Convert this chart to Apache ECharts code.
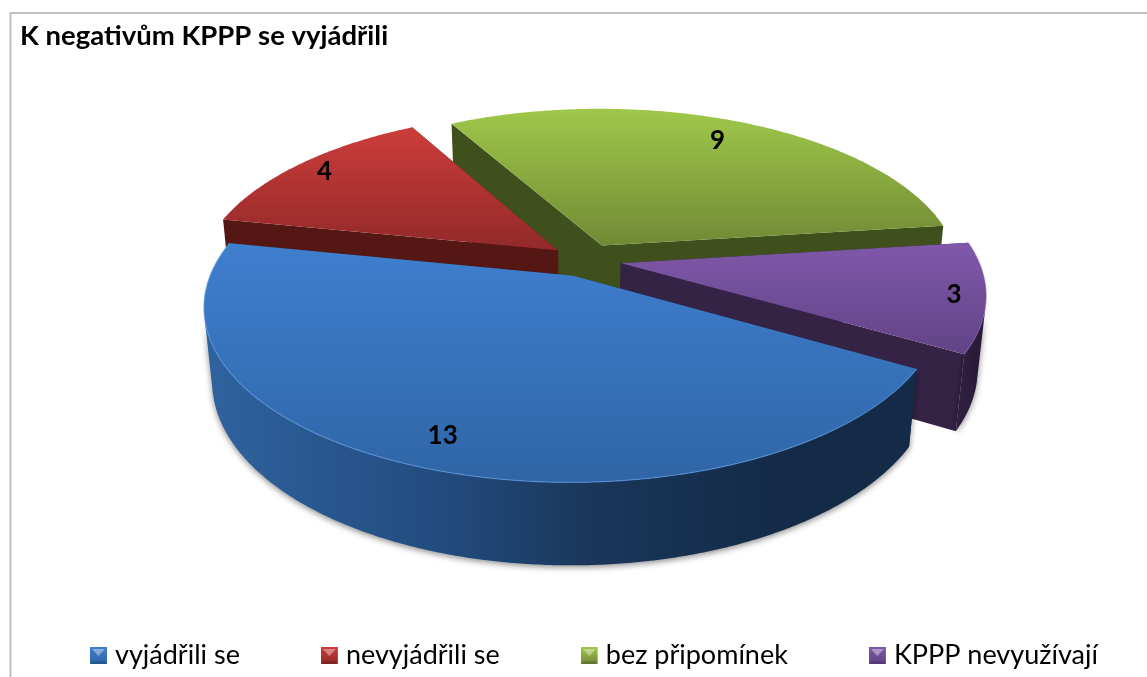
<!DOCTYPE html>
<html><head><meta charset="utf-8">
<style>html,body{margin:0;padding:0;background:#fff}#c{width:1147px;height:677px}</style>
<script src="https://cdn.jsdelivr.net/npm/echarts@6/dist/echarts.min.js"></script>
</head><body><div id="c"></div>
<script>
const titleText = 'K negativům KPPP se vyjádřili';
const categories = ['vyjádřili se', 'nevyjádřili se', 'bez připomínek', 'KPPP nevyužívají'];
const values = [13, 4, 9, 3];

// appearance, per slice
const topColors  = [['#3f7fcf','#2f65a6'], ['#cc3d39','#92292a'], ['#9fc84a','#718a35'], ['#8058aa','#624386']];
const wallColors = ['#1c3d66', '#551714', '#3f501c', '#342345'];
const arcColors  = [['#2f639f','#214a7c','#1a3659','#132b47','#142b47'], ['#551714','#551714'], ['#3f501c','#3f501c'], ['#2f2040','#271a35']];
const arcStops   = [[0,0.35,0.55,0.8,1], [0,1], [0,1], [0,1]];
const edgeColors = ['rgba(91,149,224,0.7)', 'rgba(0,0,0,0)', 'rgba(0,0,0,0)', 'rgba(138,100,180,0.4)'];
const labelRadius = [0.86, 0.9, 0.83, 0.915];
const paintOrder = [4, 2, 1, 3];

// projection parameters of the 3D view
const startAngle = 30, explode = 0.1, height3d = 0.2327;
const originX = 586, originY = 260, focal = 1836, dist = 5.14, tilt = 27.5 * Math.PI / 180;
const cosT = Math.cos(tilt), sinT = Math.sin(tilt);
const rad = d => d * Math.PI / 180;
function project(X, Y, Z) {
  const w = dist - (Y * cosT + Z * sinT);
  return [originX + focal * X / w, originY - focal * (Z * cosT - Y * sinT) / w];
}
const total = values.reduce((a, b) => a + b, 0);
function sliceAngles(i) {
  let a = startAngle;
  for (let k = 0; k < i; k++) a += values[k] / total * 360;
  return [a, a + values[i] / total * 360];
}
function renderSlice(i) {
  const [a0, a1] = sliceAngles(i);
  const mid = rad((a0 + a1) / 2);
  const ox = Math.cos(mid) * explode, oy = Math.sin(mid) * explode;
  const n = Math.ceil(a1 - a0) * 2;
  const arc = [];
  for (let k = 0; k <= n; k++) arc.push(a0 + (a1 - a0) * k / n);
  const pt = (deg, Z) => project(ox + Math.cos(rad(deg)), oy + Math.sin(rad(deg)), Z);
  const apexTop = project(ox, oy, 0), apexBot = project(ox, oy, -height3d);
  const ch = [];
  const wall = (deg) => ({ type: 'polygon', shape: { points: [apexTop, pt(deg, 0), pt(deg, -height3d), apexBot] },
    style: { fill: wallColors[i] } });
  ch.push(wall(a0), wall(a1));
  ch.push({ type: 'polyline', shape: { points: [apexTop, apexBot] }, style: { fill: null, stroke: wallColors[i], lineWidth: 1.5 } });
  // outer rim: only the part that faces the camera
  const camY = dist * cosT;
  const vis = arc.filter(d => {
    const c = Math.cos(rad(d)), s = Math.sin(rad(d));
    return s * (camY - oy - s) - c * (ox + c) > 0;
  });
  if (vis.length > 1) {
    const pts = vis.map(d => pt(d, 0)).concat(vis.slice().reverse().map(d => pt(d, -height3d)));
    const stops = arcColors[i].map((c, k) => ({ offset: arcStops[i][k], color: c }));
    ch.push({ type: 'polygon', shape: { points: pts }, style: {
      fill: { type: 'linear', x: 0, y: 0, x2: 1, y2: 0, colorStops: stops },
      shadowBlur: 6, shadowColor: 'rgba(0,0,0,0.45)', shadowOffsetX: 0, shadowOffsetY: 2 } });
  }
  const topPts = [apexTop].concat(arc.map(d => pt(d, 0)));
  ch.push({ type: 'polygon', shape: { points: topPts }, style: {
    fill: { type: 'linear', x: 0, y: 0, x2: 0, y2: 1, colorStops: [{ offset: 0, color: topColors[i][0] }, { offset: 1, color: topColors[i][1] }] } } });
  ch.push({ type: 'polyline', shape: { points: arc.map(d => pt(d, 0)) }, style: { fill: null, stroke: edgeColors[i], lineWidth: 1.2 } });
  const r = labelRadius[i];
  const lp = project(ox + r * Math.cos(mid), oy + r * Math.sin(mid), 0);
  ch.push({ type: 'text', z2: 10, style: { text: String(values[i]), x: lp[0], y: lp[1], align: 'center', verticalAlign: 'middle',
    font: 'bold 26px Lato', fill: '#000' } });
  return { type: 'group', children: ch };
}
function iconUrl(i) {
  const c = topColors[i];
  const svg = `<svg xmlns="http://www.w3.org/2000/svg" width="17" height="17"><defs><linearGradient id="g" x1="0" y1="0" x2="0" y2="1"><stop offset="0" stop-color="${c[0]}"/><stop offset="1" stop-color="${c[1]}"/></linearGradient></defs><rect width="17" height="17" fill="url(#g)"/><polygon points="2,2 15,2 8.5,9" fill="#fff" fill-opacity="0.38"/><polygon points="0,17 17,17 14,14 3,14" fill="#000" fill-opacity="0.15"/></svg>`;
  return 'image://data:image/svg+xml;charset=utf-8,' + encodeURIComponent(svg);
}
const chart = echarts.init(document.getElementById('c'), null, { renderer: 'canvas' });
chart.setOption({
  animation: false,
  backgroundColor: '#fff',
  title: { text: titleText, left: 20, top: 22, padding: 0,
    textStyle: { fontFamily: 'Lato', fontWeight: 'bold', fontSize: 27.5, color: '#000' } },
  legend: { left: 90, top: 642, itemWidth: 17, itemHeight: 17, itemGap: 81, padding: 0, selectedMode: false,
    data: categories.map((c, i) => ({ name: c, icon: iconUrl(i) })),
    textStyle: { fontFamily: 'Lato', fontSize: 27, color: '#000', padding: [0, 0, 0, 3] } },
  graphic: [{ type: 'rect', silent: true, z: -1, shape: { x: 10.5, y: 13, width: 1200, height: 700 }, style: { fill: 'none', stroke: '#bfbfbf', lineWidth: 2 } }],
  series: categories.map((c, i) => ({
    type: 'custom', name: c, coordinateSystem: 'none', z: paintOrder[i], silent: true,
    data: [values[i]], itemStyle: { color: topColors[i][0] },
    renderItem: () => renderSlice(i)
  }))
});
</script></body></html>
